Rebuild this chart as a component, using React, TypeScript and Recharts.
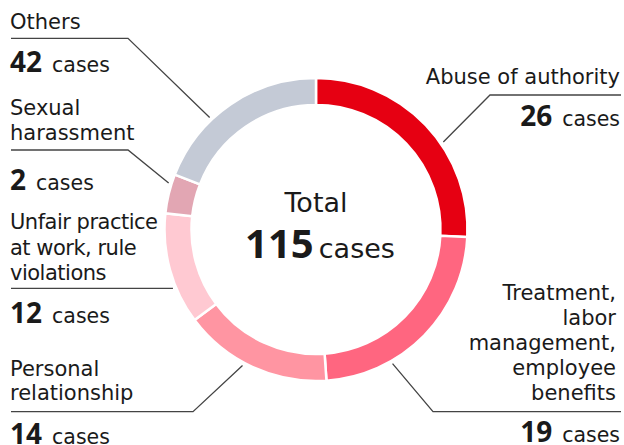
import React from "react";
import { PieChart, Pie, Cell } from "recharts";

// Categories (clockwise from 12 o'clock)
const categories = [
  "Abuse of authority",
  "Treatment, labor management, employee benefits",
  "Personal relationship",
  "Unfair practice at work, rule violations",
  "Sexual harassment",
  "Others",
];
// Case counts shown in labels
const caseCounts = [26, 19, 14, 12, 2, 42];
// Slice shares as drawn in the ring (%)
const sliceShares = [25.8, 23.1, 15.9, 11.9, 4.2, 19.1];
const totalCases = 115;

const colors = ["#E60012", "#FF6680", "#FF95A2", "#FFC9D2", "#E2A6B3", "#C4CAD6"];

const CX = 316;
const CY = 229.5;
const OUTER = 151.5;
const INNER = 124.5;
const FONT = "'DejaVu Sans', sans-serif";
const NUMFONT = "'Noto Sans', sans-serif";
const TEXT = "#1a1a1a";
const LINE = "#444";

type Layout = {
  anchor: "start" | "end";
  x: number;
  lines: string[];
  baselines: number[];
  path: [number, number][];
  leaderAngle: number; // clockwise degrees from top
  countY: number;
  nameSpacing?: number;
};

const layouts: Layout[] = [
  {
    anchor: "end", x: 620, lines: ["Abuse of authority"], baselines: [83.5],
    path: [[621, 95], [490, 95]], leaderAngle: 55.5, countY: 126,
  },
  {
    anchor: "end", x: 616,
    lines: ["Treatment,", "labor", "management,", "employee", "benefits"],
    baselines: [300, 325, 350, 374.5, 399.5],
    path: [[621, 411.7], [433, 411.7]], leaderAngle: 150.3, countY: 441.5,
  },
  {
    anchor: "start", x: 10, lines: ["Personal", "relationship"], baselines: [376, 400],
    path: [[11, 411.7], [193, 411.7]], leaderAngle: 208.4, countY: 444,
  },
  {
    anchor: "start", x: 10, lines: ["Unfair practice", "at work, rule", "violations"],
    baselines: [229.3, 255, 280],
    path: [[11, 288.3]], leaderAngle: 247.8, countY: 323.3, nameSpacing: -0.5,
  },
  {
    anchor: "start", x: 10, lines: ["Sexual", "harassment"], baselines: [115, 140],
    path: [[11, 150], [128, 150]], leaderAngle: 287.5, countY: 190,
  },
  {
    anchor: "start", x: 10, lines: ["Others"], baselines: [29.3],
    path: [[11, 38.3], [128, 38.3]], leaderAngle: 316.5, countY: 71.7,
  },
];

const data = categories.map((name, i) => ({
  name,
  share: sliceShares[i],
  cases: caseCounts[i],
}));

const renderLabel = (props: any) => {
  const { index, cx, cy, outerRadius } = props;
  const L = layouts[index];
  if (!L) return null;
  const rad = (L.leaderAngle * Math.PI) / 180;
  const r = outerRadius + 3;
  const ex = cx + r * Math.sin(rad);
  const ey = cy - r * Math.cos(rad);
  let pts = [...L.path];
  if (pts.length === 1) {
    pts = [pts[0], [ex, pts[0][1]]];
  } else {
    pts = [...pts, [ex, ey]];
  }
  const d = pts.map((p, i) => `${i === 0 ? "M" : "L"}${p[0]},${p[1]}`).join(" ");
  const countX = L.anchor === "end" ? 620 : 10;
  return (
    <g key={`lab-${index}`}>
      <path d={d} fill="none" stroke={LINE} strokeWidth={1.3} />
      {L.lines.map((t, i) => (
        <text
          key={i}
          x={L.x}
          y={L.baselines[i]}
          textAnchor={L.anchor}
          fontFamily={FONT}
          fontSize={21}
          letterSpacing={L.nameSpacing ?? 0}
          fill={TEXT}
        >
          {t}
        </text>
      ))}
      <text x={countX} y={L.countY} textAnchor={L.anchor} fill={TEXT}>
        <tspan fontFamily={NUMFONT} fontSize={28} fontWeight={700}>{caseCounts[index]}</tspan>
        <tspan fontFamily={FONT} fontSize={20.5} dx={10}>cases</tspan>
      </text>
    </g>
  );
};

export default function App() {
  return (
    <div style={{ position: "absolute", left: 0, top: 0, width: 624, height: 445, background: "#fff" }}>
      <PieChart width={624} height={445} margin={{ top: 0, right: 0, bottom: 0, left: 0 }}>
        <Pie
          data={data}
          dataKey="share"
          nameKey="name"
          cx={CX}
          cy={CY}
          innerRadius={INNER}
          outerRadius={OUTER}
          startAngle={90}
          endAngle={-270}
          stroke="#fff"
          strokeWidth={2.5}
          label={renderLabel}
          labelLine={false}
          isAnimationActive={false}
        >
          {data.map((d, i) => (
            <Cell key={d.name} fill={colors[i]} />
          ))}
        </Pie>
        <text x={CX} y={212.3} textAnchor="middle" fontFamily={FONT} fontSize={27} fill={TEXT}>
          Total
        </text>
        <text x={320} y={258.3} textAnchor="middle" fill={TEXT}>
          <tspan fontFamily={NUMFONT} fontSize={40} fontWeight={700}>{totalCases}</tspan>
          <tspan fontFamily={FONT} fontSize={27} dx={5}>cases</tspan>
        </text>
      </PieChart>
    </div>
  );
}
